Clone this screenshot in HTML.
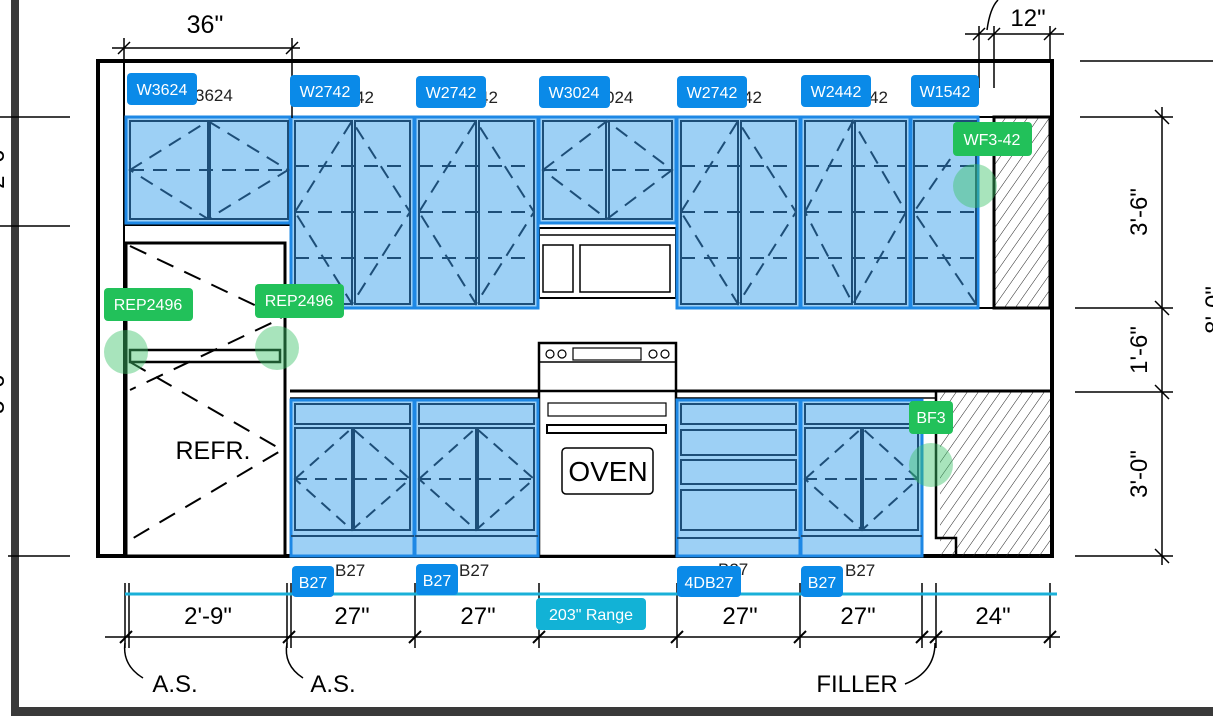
<!DOCTYPE html>
<html><head><meta charset="utf-8"><style>
html,body{margin:0;padding:0;background:#fff;}
svg{display:block;}
text{font-family:"Liberation Sans",sans-serif;}
</style></head><body>
<svg width="1213" height="725" viewBox="0 0 1213 725" xmlns="http://www.w3.org/2000/svg">
<rect width="1213" height="725" fill="#fff"/>
<rect x="11" y="0" width="8" height="716" fill="#3a3a3a"/>
<rect x="11" y="707" width="1202" height="9" fill="#3a3a3a"/>

<rect x="98" y="61" width="954" height="495" fill="none" stroke="#000" stroke-width="4"/>
<line x1="124" y1="61" x2="124" y2="556" stroke="#000" stroke-width="2"/>
<line x1="124" y1="225" x2="290" y2="225" stroke="#000" stroke-width="2"/>

<defs>
<pattern id="h" width="9" height="9" patternUnits="userSpaceOnUse" patternTransform="rotate(35)">
<line x1="0" y1="0" x2="0" y2="9" stroke="#222" stroke-width="1"/>
</pattern>
</defs>
<rect x="994" y="117" width="56" height="191" fill="url(#h)" stroke="#000" stroke-width="3"/>
<line x1="978" y1="117" x2="1050" y2="117" stroke="#000" stroke-width="2"/>
<line x1="978" y1="308" x2="1050" y2="308" stroke="#000" stroke-width="2"/>
<rect x="940" y="392" width="110" height="164" fill="url(#h)"/>
<path d="M936 392 V538 H956 V556" fill="none" stroke="#000" stroke-width="2.5"/>
<line x1="290" y1="391" x2="1050" y2="391" stroke="#000" stroke-width="3"/>
<line x1="290" y1="398" x2="935" y2="398" stroke="#000" stroke-width="1.5"/>

<rect x="126" y="243" width="159" height="313" fill="#fff" stroke="#000" stroke-width="3"/>
<g stroke="#000" stroke-width="2" stroke-dasharray="18,12" fill="none">
<path d="M130 246 L282 318 L130 390"/>
<path d="M130 362 L282 450 L130 540"/>
</g>
<rect x="130" y="350" width="150" height="12" fill="none" stroke="#000" stroke-width="2.5"/>
<text x="213" y="459" font-size="25" text-anchor="middle">REFR.</text>

<rect x="539" y="228" width="137" height="70" fill="#fff" stroke="#000" stroke-width="2"/>
<rect x="543" y="245" width="30" height="47" fill="none" stroke="#000" stroke-width="1.5"/>
<rect x="580" y="245" width="90" height="47" fill="none" stroke="#000" stroke-width="1.5"/>
<line x1="539" y1="235" x2="676" y2="235" stroke="#000" stroke-width="1.5"/>

<rect x="539" y="343" width="137" height="213" fill="#fff" stroke="#000" stroke-width="2.5"/>
<line x1="539" y1="362" x2="676" y2="362" stroke="#000" stroke-width="1.5"/>
<line x1="539" y1="391" x2="676" y2="391" stroke="#000" stroke-width="2.5"/>
<g fill="none" stroke="#000" stroke-width="1.2">
<circle cx="550" cy="354" r="4"/><circle cx="562" cy="354" r="4"/>
<circle cx="653" cy="354" r="4"/><circle cx="665" cy="354" r="4"/>
<rect x="573" y="348" width="68" height="12"/>
<rect x="548" y="403" width="118" height="13"/>
<rect x="547" y="425" width="119" height="8" stroke-width="2"/>
<rect x="562" y="448" width="91" height="46" rx="4" stroke-width="1.5"/>
</g>
<text x="608" y="481" font-size="28" text-anchor="middle">OVEN</text>

<g fill="#9dd0f5" stroke="#1e88e5" stroke-width="3">
<rect x="126" y="117" width="164" height="106"/>
<rect x="291" y="117" width="123" height="191"/>
<rect x="415" y="117" width="123" height="191"/>
<rect x="539" y="117" width="137" height="106"/>
<rect x="677" y="117" width="123" height="191"/>
<rect x="801" y="117" width="109" height="191"/>
<rect x="911" y="117" width="67" height="191"/>
</g>
<g fill="none" stroke="#1d4e78" stroke-width="2">
<rect x="130" y="121" width="78" height="98"/><rect x="210" y="121" width="78" height="98"/>
<rect x="295" y="121" width="57" height="183"/><rect x="355" y="121" width="55" height="183"/>
<rect x="419" y="121" width="57" height="183"/><rect x="479" y="121" width="55" height="183"/>
<rect x="543" y="121" width="63" height="98"/><rect x="609" y="121" width="63" height="98"/>
<rect x="681" y="121" width="57" height="183"/><rect x="741" y="121" width="55" height="183"/>
<rect x="805" y="121" width="47" height="183"/><rect x="855" y="121" width="51" height="183"/>
<rect x="914" y="121" width="62" height="183"/>
</g>
<g fill="none" stroke="#1d4e78" stroke-width="2" stroke-dasharray="14,9">
<path d="M130 170 H288 M130 170 L208 121 L288 170 L208 219 Z"/>
<path d="M295 166 H410 M295 212 H410 M295 258 H410 M295 212 L352 121 L410 212 L352 304 Z"/>
<path d="M419 166 H534 M419 212 H534 M419 258 H534 M419 212 L476 121 L534 212 L476 304 Z"/>
<path d="M543 170 H672 M543 170 L607 121 L672 170 L607 219 Z"/>
<path d="M681 166 H796 M681 212 H796 M681 258 H796 M681 212 L738 121 L796 212 L738 304 Z"/>
<path d="M805 166 H906 M805 212 H906 M805 258 H906 M805 212 L853 121 L906 212 L853 304 Z"/>
<path d="M914 166 H976 M914 212 H976 M914 258 H976 M976 121 L914 212 L976 304"/>
</g>

<g fill="#9dd0f5" stroke="#1e88e5" stroke-width="3">
<rect x="291" y="400" width="123" height="156"/>
<rect x="415" y="400" width="123" height="156"/>
<rect x="677" y="400" width="123" height="156"/>
<rect x="801" y="400" width="121" height="156"/>
</g>
<g fill="none" stroke="#1d4e78" stroke-width="2">
<rect x="295" y="404" width="115" height="20"/><rect x="295" y="428" width="57" height="102"/><rect x="354" y="428" width="56" height="102"/><line x1="291" y1="536" x2="414" y2="536"/>
<rect x="419" y="404" width="115" height="20"/><rect x="419" y="428" width="57" height="102"/><rect x="478" y="428" width="56" height="102"/><line x1="415" y1="536" x2="538" y2="536"/>
<rect x="681" y="404" width="115" height="20"/><rect x="681" y="430" width="115" height="25"/><rect x="681" y="460" width="115" height="24"/><rect x="681" y="490" width="115" height="40"/><line x1="677" y1="538" x2="800" y2="538"/>
<rect x="805" y="404" width="113" height="20"/><rect x="805" y="428" width="56" height="102"/><rect x="863" y="428" width="55" height="102"/><line x1="801" y1="536" x2="922" y2="536"/>
</g>
<g fill="none" stroke="#1d4e78" stroke-width="2" stroke-dasharray="12,8">
<path d="M295 479 H410 M295 479 L352 428 L410 479 L352 530 Z"/>
<path d="M419 479 H534 M419 479 L476 428 L534 479 L476 530 Z"/>
<path d="M805 479 H918 M805 479 L862 428 L918 479 L862 530 Z"/>
</g>

<g font-size="17" fill="#222">
<text x="195" y="101">3624</text><text x="355" y="103">42</text><text x="479" y="103">42</text>
<text x="605" y="103">024</text><text x="743" y="103">42</text><text x="869" y="103">42</text>
<text x="335" y="576">B27</text><text x="459" y="576">B27</text><text x="718" y="575">B27</text><text x="845" y="576">B27</text>
</g>

<g stroke="#000" stroke-width="1.5" fill="none">
<line x1="112" y1="48" x2="300" y2="48"/><line x1="124" y1="38" x2="124" y2="61"/><line x1="292" y1="38" x2="292" y2="118"/>
<line x1="118" y1="54" x2="130" y2="42"/><line x1="286" y1="54" x2="298" y2="42"/>
<line x1="965" y1="34" x2="1064" y2="34"/><line x1="979" y1="26" x2="979" y2="88"/><line x1="994" y1="26" x2="994" y2="88"/><line x1="1050" y1="26" x2="1050" y2="61"/>
<line x1="973" y1="40" x2="985" y2="28"/><line x1="988" y1="40" x2="1000" y2="28"/><line x1="1044" y1="40" x2="1056" y2="28"/>
<path d="M987 30 Q990 8 998 0"/>
</g>
<text x="205" y="33" font-size="25" text-anchor="middle">36"</text>
<text x="1028" y="26" font-size="24" text-anchor="middle">12"</text>

<g stroke="#000" stroke-width="1.5">
<line x1="1080" y1="61" x2="1213" y2="61"/>
<line x1="1080" y1="117" x2="1173" y2="117"/>
<line x1="1075" y1="308" x2="1173" y2="308"/>
<line x1="1075" y1="392" x2="1173" y2="392"/>
<line x1="1075" y1="556" x2="1173" y2="556"/>
<line x1="1162" y1="107" x2="1162" y2="565"/>
<line x1="1155" y1="110" x2="1169" y2="124"/><line x1="1155" y1="301" x2="1169" y2="315"/>
<line x1="1155" y1="385" x2="1169" y2="399"/><line x1="1155" y1="549" x2="1169" y2="563"/>
<line x1="0" y1="117" x2="70" y2="117"/><line x1="0" y1="226" x2="70" y2="226"/><line x1="8" y1="556" x2="70" y2="556"/>
</g>
<g font-size="24">
<text transform="translate(1147,212) rotate(-90)" text-anchor="middle">3'-6"</text>
<text transform="translate(1147,350) rotate(-90)" text-anchor="middle">1'-6"</text>
<text transform="translate(1147,474) rotate(-90)" text-anchor="middle">3'-0"</text>
<text transform="translate(1222,310) rotate(-90)" text-anchor="middle">8'-0"</text>
<text transform="translate(4,165) rotate(-90)" text-anchor="middle">2'-6"</text>
<text transform="translate(4,390) rotate(-90)" text-anchor="middle">5'-6"</text>
</g>

<g stroke="#000" stroke-width="1.5" fill="none">
<line x1="105" y1="637" x2="1060" y2="637"/>
<line x1="125" y1="583" x2="125" y2="648"/><line x1="129" y1="583" x2="129" y2="648"/>
<line x1="287" y1="583" x2="287" y2="648"/><line x1="291" y1="583" x2="291" y2="648"/>
<line x1="415" y1="583" x2="415" y2="648"/><line x1="539" y1="583" x2="539" y2="648"/>
<line x1="677" y1="583" x2="677" y2="648"/><line x1="800" y1="583" x2="800" y2="648"/>
<line x1="922" y1="583" x2="922" y2="648"/><line x1="936" y1="583" x2="936" y2="648"/><line x1="1050" y1="583" x2="1050" y2="648"/>
<g stroke-width="2">
<line x1="120" y1="643" x2="132" y2="631"/><line x1="283" y1="643" x2="295" y2="631"/><line x1="409" y1="643" x2="421" y2="631"/>
<line x1="533" y1="643" x2="545" y2="631"/><line x1="671" y1="643" x2="683" y2="631"/><line x1="794" y1="643" x2="806" y2="631"/>
<line x1="916" y1="643" x2="928" y2="631"/><line x1="930" y1="643" x2="942" y2="631"/><line x1="1044" y1="643" x2="1056" y2="631"/>
</g>
<path d="M125 643 Q122 665 143 678"/><path d="M287 643 Q283 665 303 678"/><path d="M935 643 Q935 672 905 684"/>
</g>
<g font-size="24" text-anchor="middle">
<text x="208" y="624">2'-9"</text><text x="352" y="624">27"</text><text x="478" y="624">27"</text>
<text x="740" y="624">27"</text><text x="858" y="624">27"</text><text x="993" y="624">24"</text>
<text x="175" y="692">A.S.</text><text x="333" y="692">A.S.</text><text x="857" y="692">FILLER</text>
</g>
<line x1="125" y1="594" x2="1057" y2="594" stroke="#1ab0d8" stroke-width="3"/>

<g fill="#3fc46a" fill-opacity="0.45">
<circle cx="126" cy="352" r="22"/><circle cx="277" cy="348" r="22"/>
<circle cx="975" cy="186" r="22"/><circle cx="931" cy="465" r="22"/>
</g>

<g fill="#0a8ae8">
<rect x="127" y="73" width="70" height="32" rx="4"/>
<rect x="290" y="75" width="70" height="32" rx="4"/>
<rect x="416" y="76" width="70" height="32" rx="4"/>
<rect x="539" y="76" width="71" height="32" rx="4"/>
<rect x="677" y="76" width="70" height="32" rx="4"/>
<rect x="801" y="75" width="70" height="32" rx="4"/>
<rect x="911" y="75" width="68" height="32" rx="4"/>
<rect x="292" y="566" width="42" height="31" rx="4"/>
<rect x="416" y="564" width="42" height="31" rx="4"/>
<rect x="677" y="566" width="64" height="31" rx="4"/>
<rect x="801" y="566" width="42" height="31" rx="4"/>
</g>
<rect x="536" y="598" width="110" height="32" rx="4" fill="#12b2d6"/>
<g fill="#fff" font-size="16" text-anchor="middle">
<text x="162" y="95">W3624</text><text x="325" y="97">W2742</text><text x="451" y="98">W2742</text>
<text x="574" y="98">W3024</text><text x="712" y="98">W2742</text><text x="836" y="97">W2442</text>
<text x="945" y="97">W1542</text>
<text x="313" y="588">B27</text><text x="437" y="586">B27</text><text x="709" y="588">4DB27</text><text x="822" y="588">B27</text>
<text x="591" y="620">203" Range</text>
</g>

<g fill="#22c15a">
<rect x="104" y="288" width="89" height="33" rx="4"/>
<rect x="255" y="284" width="89" height="34" rx="4"/>
<rect x="953" y="122" width="79" height="34" rx="4"/>
<rect x="909" y="401" width="44" height="33" rx="4"/>
</g>
<g fill="#fff" font-size="16" text-anchor="middle">
<text x="148" y="310">REP2496</text><text x="299" y="306">REP2496</text>
<text x="992" y="145">WF3-42</text><text x="931" y="423">BF3</text>
</g>
</svg>
</body></html>
